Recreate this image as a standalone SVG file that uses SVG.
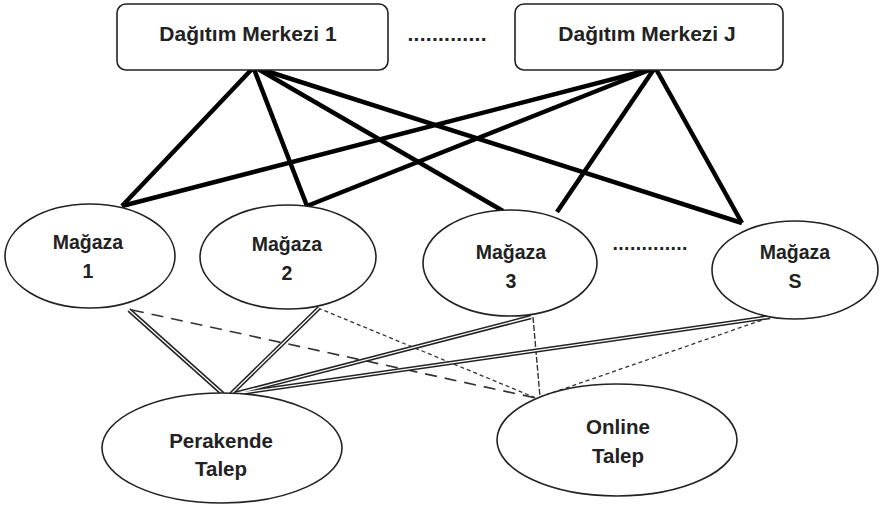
<svg xmlns="http://www.w3.org/2000/svg" width="883" height="508" viewBox="0 0 883 508">
<style>
.box{fill:#fff;stroke:#222;stroke-width:1.6}
.ell{fill:#fff;stroke:#222;stroke-width:1.6}
.t{font-family:"Liberation Sans",Arial,sans-serif;font-weight:bold;fill:#222;text-anchor:middle}
.tb{font-size:21px}
.tm{font-size:19.5px}
.tl{font-size:20.5px}
.thick{stroke:#000;stroke-width:4.5;stroke-linecap:butt;fill:none}
.dbl{stroke:#222;stroke-width:4.4;fill:none}
.dblin{stroke:#fff;stroke-width:1.3;fill:none}
.dash{stroke:#333;stroke-width:1.6;stroke-dasharray:12 8;fill:none}
.dot{stroke:#333;stroke-width:1.3;stroke-dasharray:4 3;fill:none}
.vdash{stroke:#333;stroke-width:1.4;stroke-dasharray:6 2;fill:none}
</style>
<g id="connectors">
  <line class="thick" x1="252" y1="69" x2="122" y2="206"/>
  <line class="thick" x1="254" y1="69" x2="307" y2="206"/>
  <line class="thick" x1="258" y1="69" x2="503" y2="211"/>
  <line class="thick" x1="260" y1="69" x2="742" y2="223"/>
  <line class="thick" x1="652" y1="69" x2="122" y2="206"/>
  <line class="thick" x1="652" y1="69" x2="307" y2="206"/>
  <line class="thick" x1="654" y1="69" x2="557" y2="212"/>
  <line class="thick" x1="656" y1="69" x2="742" y2="223"/>
  <line class="dash" x1="132" y1="310" x2="536" y2="398"/>
  <line class="dot" x1="318" y1="308" x2="536" y2="398"/>
  <line class="vdash" x1="533" y1="317" x2="540" y2="397"/>
  <line class="dot" x1="768" y1="318" x2="540" y2="397"/>
  <g id="dbl-lines">
    <line class="dbl" x1="129" y1="310" x2="223" y2="394"/>
    <line class="dbl" x1="319" y1="308" x2="231" y2="394"/>
    <line class="dbl" x1="531" y1="317" x2="234" y2="394"/>
    <line class="dbl" x1="770" y1="317" x2="234" y2="394"/>
    <line class="dblin" x1="129" y1="310" x2="223" y2="394"/>
    <line class="dblin" x1="319" y1="308" x2="231" y2="394"/>
    <line class="dblin" x1="531" y1="317" x2="234" y2="394"/>
    <line class="dblin" x1="770" y1="317" x2="234" y2="394"/>
  </g>
</g>
<g id="dm1">
  <rect class="box" x="117" y="4" width="271" height="66" rx="9"/>
  <text class="t tb" x="248" y="41">Dağıtım Merkezi 1</text>
</g>
<g id="dots-top">
  <text class="t tb" x="447" y="41" textLength="79" lengthAdjust="spacing">.............</text>
</g>
<g id="dmj">
  <rect class="box" x="515" y="4" width="268" height="66" rx="9"/>
  <text class="t tb" x="647" y="41">Dağıtım Merkezi J</text>
</g>
<g id="m1">
  <ellipse class="ell" cx="90" cy="256" rx="85" ry="52"/>
  <text class="t tm" x="88" y="249">Mağaza</text>
  <text class="t tm" x="88" y="278">1</text>
</g>
<g id="m2">
  <ellipse class="ell" cx="288" cy="257" rx="88" ry="52"/>
  <text class="t tm" x="287" y="251">Mağaza</text>
  <text class="t tm" x="287" y="280">2</text>
</g>
<g id="m3">
  <ellipse class="ell" cx="510" cy="263" rx="87" ry="53"/>
  <text class="t tm" x="511" y="259">Mağaza</text>
  <text class="t tm" x="511" y="288">3</text>
</g>
<g id="dots-mid">
  <text class="t tm" x="650" y="250" textLength="75" lengthAdjust="spacing">.............</text>
</g>
<g id="ms">
  <ellipse class="ell" cx="795" cy="270" rx="83" ry="49"/>
  <text class="t tm" x="795" y="259">Mağaza</text>
  <text class="t tm" x="795" y="288">S</text>
</g>
<g id="perakende">
  <ellipse class="ell" cx="222" cy="448" rx="120" ry="55"/>
  <text class="t tl" x="221" y="448">Perakende</text>
  <text class="t tl" x="221" y="476">Talep</text>
</g>
<g id="online">
  <ellipse class="ell" cx="617" cy="440" rx="120" ry="56"/>
  <text class="t tl" x="618" y="434">Online</text>
  <text class="t tl" x="618" y="463">Talep</text>
</g>
</svg>
